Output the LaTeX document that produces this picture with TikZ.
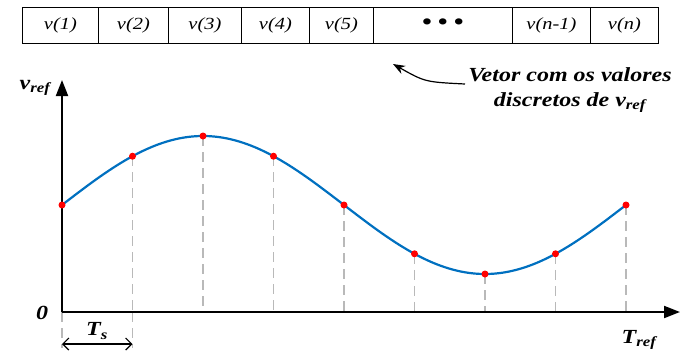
\documentclass[tikz,border=0pt]{standalone}
\usepackage{fontspec}
\setmainfont[FakeStretch=1.2]{Liberation Serif}
\usetikzlibrary{arrows.meta,positioning}

\definecolor{curveblue}{RGB}{0,112,192}

\tikzset{
  cell/.style={draw, line width=0.8pt, minimum height=36pt, inner sep=0pt, anchor=west,
    font=\fontsize{17}{20}\selectfont\itshape},
  sample/.style={circle, fill=red, inner sep=0pt, minimum size=7pt},
  guide/.style={gray!55, dash pattern=on 10pt off 6pt, line width=1.2pt},
  lbl/.style={font=\fontsize{20}{24}\selectfont\bfseries\itshape},
}

\begin{document}
\begin{tikzpicture}[x=1pt,y=-1pt]
    \useasboundingbox (0,0) rectangle (680,351);

    % vector of samples
    \foreach \x/\w/\t [count=\i] in {22/76/v(1), 98/70/v(2), 168/73/v(3), 241/68/v(4),
        309/64/v(5), 373/139/{\upshape\fontsize{26}{26}\selectfont\textbullet\hspace{5pt}\textbullet\hspace{5pt}\textbullet},
        512/78/v(n-1), 590/68/v(n)}
        \node[cell, minimum width=\w pt] (c\i) at (\x,25) {\t};

    % axes
    \coordinate (o) at (62,312);
    \coordinate (ytip) at (62,80);
    \coordinate (xtip) at (680,312);
    \node[lbl] (vref) at (35,88) {v\textsubscript{ref}};
    \node[lbl] (zero) at (42,313) {0};
    \node[lbl] (tref) at (639,340) {T\textsubscript{ref}};

    % samples
    \foreach \k in {0,...,8}
        \coordinate (p\k) at ({62+70.5*\k},{205-69*sin(45*\k)});
    \foreach \k in {0,...,8}
        \draw[guide] (p\k) -- (p\k |- o);
    \draw[guide] (p0 |- o) -- ++(0,36);
    \draw[guide] (p1 |- o) -- ++(0,36);

    \draw[line width=2pt, -{Triangle[length=16pt,width=12pt]}] (o) -- (ytip);
    \draw[line width=2pt, -{Triangle[length=16pt,width=12pt]}] (o) -- (xtip);

    \draw[curveblue, line width=2.2pt] plot[domain=62:626, samples=120, smooth]
        (\x, {205-69*sin((\x-62)/564*360)});
    \foreach \k in {0,...,8}
        \node[sample] at (p\k) {};

    % sampling period
    \coordinate (ts0) at (p0 |- 0,344);
    \coordinate (ts1) at (p1 |- 0,344);
    \draw[line width=1.2pt, {Straight Barb[length=6pt,width=12pt]}-{Straight Barb[length=6pt,width=12pt]}] (ts0) -- (ts1);
    \node[lbl] (ts) at (97,331) {T\textsubscript{s}};

    % note
    \node[lbl, align=center] (note) at (570,90) {Vetor com os valores\\[1pt]discretos de v\textsubscript{ref}};
    \draw[line width=1.2pt, -{Stealth[length=12pt,width=9pt]}] (465,84) .. controls (425,82) .. (393,64);
\end{tikzpicture}
\end{document}
